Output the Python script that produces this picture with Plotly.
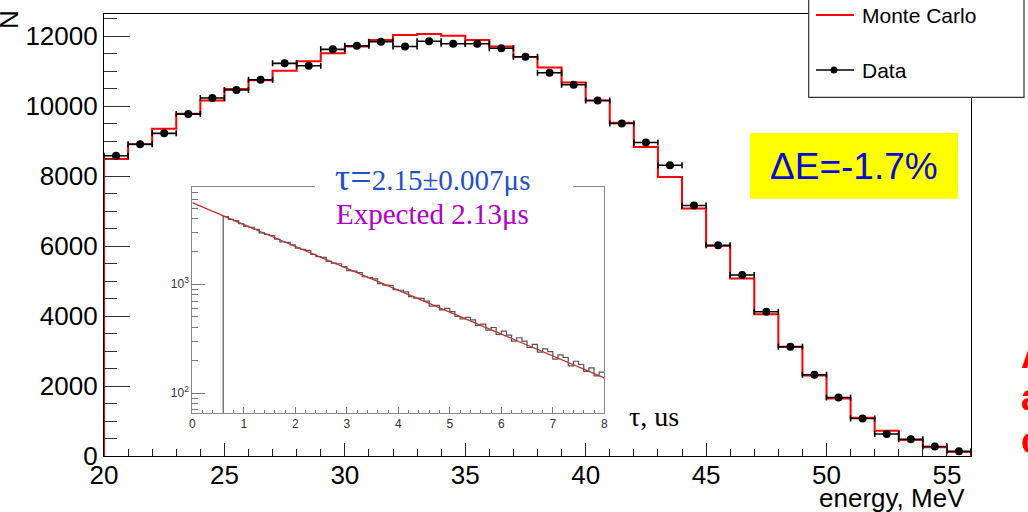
import numpy as np
import plotly.graph_objects as go

# ---------------- data ----------------
energy_lo = list(range(20, 56))          # bin lower edges, 1 MeV bins
energy_hi_edge = 56
mc_counts = [8490, 8910, 9350, 9780, 10160, 10490, 10740, 11010, 11280, 11510,
             11700, 11890, 12030, 12060, 12010, 11890, 11700, 11400, 11100, 10670,
             10160, 9520, 8830, 7970, 7070, 6000, 5070, 4050, 3120, 2300,
             1640, 1090, 720, 460, 250, 115]
data_counts = [8580, 8910, 9220, 9770, 10230, 10460, 10750, 11220, 11150, 11620,
               11720, 11840, 11700, 11850, 11780, 11780, 11650, 11410, 10950, 10610,
               10160, 9500, 8960, 8310, 7160, 6020, 5170, 4120, 3120, 2320,
               1670, 1070, 630, 480, 270, 135]

# inset: decay-time histogram (0.1 us bins from 0.6 us) and exponential fit
tau_start = 0.6
tau_bin = 0.1
tau_counts = [4170, 3930, 3830, 3590, 3400, 3320, 3190, 2960, 2870, 2800,
              2590, 2450, 2420, 2300, 2140, 2090, 2040, 1880, 1790, 1760,
              1620, 1560, 1540, 1450, 1330, 1320, 1280, 1170, 1150, 1120,
              1010, 980, 975, 890, 880, 850, 770, 745, 740, 700,
              630, 640, 580, 600, 560, 505, 480, 495, 470, 418,
              430, 378, 400, 345, 370, 340, 300, 322, 300, 262,
              280, 238, 255, 240, 205, 224, 212, 178, 196, 183,
              158, 170, 144, 156]
fit_tau = [0.0, 8.0]
fit_vals = [5610, 138]

x_ticks_main = [20, 25, 30, 35, 40, 45, 50, 55]
y_ticks_main = [0, 2000, 4000, 6000, 8000, 10000, 12000]
inset_y_ticks = [100, 1000]
inset_y_text = ["10<sup>2</sup>", "10<sup>3</sup>"]
inset_y_minor = [70, 80, 90, 200, 300, 400, 500, 600, 700, 800, 900,
                 2000, 3000, 4000, 5000, 6000, 7000]

W, H = 1028, 512
def px(x):
    return x / W
def py(y):
    return 1 - y / H

SANS = "Liberation Sans, Arial, sans-serif"
SERIF = "Liberation Serif, Times New Roman, serif"

fig = go.Figure()

# Monte Carlo step histogram
mc_x = [energy_lo[0]] + energy_lo + [energy_hi_edge, energy_hi_edge]
mc_y = [0] + mc_counts + [mc_counts[-1], 0]
fig.add_trace(go.Scatter(x=mc_x, y=mc_y, mode="lines", line=dict(color="#ff0000", width=2, shape="hv"),
                         xaxis="x", yaxis="y", hoverinfo="skip"))

# Data points with horizontal bin-width bars
centers = [e + 0.5 for e in energy_lo]
fig.add_trace(go.Scatter(x=centers, y=data_counts, mode="markers",
                         marker=dict(color="black", size=8, symbol="circle"),
                         error_x=dict(type="constant", value=0.5, color="black", thickness=1.6, width=3),
                         xaxis="x", yaxis="y"))

# Inset histogram
y2_range = [np.log10(66), np.log10(7760)]
edges = np.round(tau_start + tau_bin * np.arange(len(tau_counts) + 1), 3).tolist()
base = 10 ** y2_range[0]
h_x = [edges[0]] + edges[:-1] + [edges[-1]]
h_y = [base] + tau_counts + [tau_counts[-1]]
fig.add_trace(go.Scatter(x=h_x, y=h_y, mode="lines", line=dict(color="#555555", width=1.2, shape="hv"),
                         xaxis="x2", yaxis="y2", hoverinfo="skip"))
fig.add_trace(go.Scatter(x=fit_tau, y=fit_vals, mode="lines", line=dict(color="#c03535", width=1.3),
                         xaxis="x2", yaxis="y2", hoverinfo="skip"))

fig.update_layout(
    width=W, height=H, margin=dict(l=0, r=0, t=0, b=0),
    paper_bgcolor="white", plot_bgcolor="white", showlegend=False,
    xaxis=dict(domain=[px(104), px(971)], range=[20, 56], tickvals=x_ticks_main,
               ticks="inside", ticklen=13, tickcolor="#222", tickwidth=1.2,
               minor=dict(dtick=1, ticks="inside", ticklen=7, tickcolor="#222", tickwidth=1),
               showline=True, linecolor="black", linewidth=1.2, mirror=True,
               showgrid=False, zeroline=False, automargin=False, ticklabelstandoff=-4,
               tickfont=dict(family=SANS, size=26, color="black"), anchor="y"),
    yaxis=dict(domain=[py(456), py(14)], range=[0, 12630], tickvals=y_ticks_main, tickformat="d",
               ticks="inside", ticklen=26, tickcolor="#333", tickwidth=1.2,
               minor=dict(dtick=500, tick0=0, ticks="inside", ticklen=13, tickcolor="#333", tickwidth=1),
               showline=True, linecolor="black", linewidth=1.2, mirror=True,
               showgrid=False, zeroline=False, automargin=False,
               tickfont=dict(family=SANS, size=26, color="black"), anchor="x"),
    xaxis2=dict(domain=[px(192.3), px(604.3)], range=[0, 8], dtick=1,
                ticks="inside", ticklen=6, tickcolor="#777", tickwidth=1,
                minor=dict(dtick=0.2, ticks="inside", ticklen=3, tickcolor="#777"),
                showline=True, linecolor="#888", linewidth=1, mirror=True,
                showgrid=False, zeroline=False, automargin=False,
                tickfont=dict(family=SANS, size=12, color="#333"), anchor="y2"),
    yaxis2=dict(domain=[py(412.7), py(187.3)], type="log", range=y2_range,
                tickvals=inset_y_ticks, ticktext=inset_y_text,
                ticks="inside", ticklen=13, tickcolor="#777", tickwidth=1,
                minor=dict(tickvals=inset_y_minor, ticks="inside", ticklen=6, tickcolor="#777"),
                showline=True, linecolor="#888", linewidth=1, mirror=True,
                showgrid=False, zeroline=False, automargin=False,
                tickfont=dict(family=SANS, size=12, color="#333"), anchor="x2"),
)

shapes = []
# gap in inset top frame behind the tau text
shapes.append(dict(type="rect", xref="paper", yref="paper", x0=px(315), x1=px(573), y0=py(190), y1=py(184),
                   fillcolor="white", line=dict(width=0), layer="above"))
# legend box
shapes.append(dict(type="rect", xref="paper", yref="paper", x0=px(808.7), x1=px(1024), y0=py(97.3), y1=py(-3),
                   fillcolor="white", line=dict(color="#333", width=1.2), layer="above"))
shapes.append(dict(type="line", xref="paper", yref="paper", x0=px(816), x1=px(854), y0=py(15), y1=py(15),
                   line=dict(color="#ff0000", width=2), layer="above"))
shapes.append(dict(type="line", xref="paper", yref="paper", x0=px(816), x1=px(854), y0=py(70), y1=py(70),
                   line=dict(color="black", width=1.6), layer="above"))
shapes.append(dict(type="circle", xref="paper", yref="paper", x0=px(830.5), x1=px(837.5), y0=py(73.5), y1=py(66.5),
                   fillcolor="black", line=dict(color="black", width=0), layer="above"))
# yellow box
shapes.append(dict(type="rect", xref="paper", yref="paper", x0=px(750), x1=px(958), y0=py(198.7), y1=py(133),
                   fillcolor="#ffff00", line=dict(width=0), layer="above"))
fig.update_layout(shapes=shapes)

ann = []
def A(text, x, y, size, color="black", family=SANS, xanchor="left", yanchor="middle", angle=0):
    ann.append(dict(text=text, x=px(x), y=py(y), xref="paper", yref="paper", showarrow=False,
                    xanchor=xanchor, yanchor=yanchor, textangle=angle,
                    font=dict(family=family, size=size, color=color)))

A("Monte Carlo", 860, 15, 21)
A("Data", 860, 70, 21)
A("ΔE=-1.7%", 854, 166, 37, color="#0a0ad0", xanchor="center")
A("<span style='font-size:38px'>τ=</span>2.15±0.007μs", 333, 177, 29, color="#2450c8", family=SERIF)
A("Expected 2.13μs", 334, 214, 29, color="#b000c8", family=SERIF)
A("τ, us", 627, 416, 28, family=SERIF)
A("energy, MeV", 967, 498, 26, xanchor="right")
A("N", 9, 20, 26, xanchor="center", angle=-90)
A("<b>A</b>", 1019, 355, 36, color="#ff0000")
A("<b>a</b>", 1019, 397, 36, color="#ff0000")
A("<b>c</b>", 1019, 440, 36, color="#ff0000")
fig.update_layout(annotations=ann)

fig.write_html("out.html")
